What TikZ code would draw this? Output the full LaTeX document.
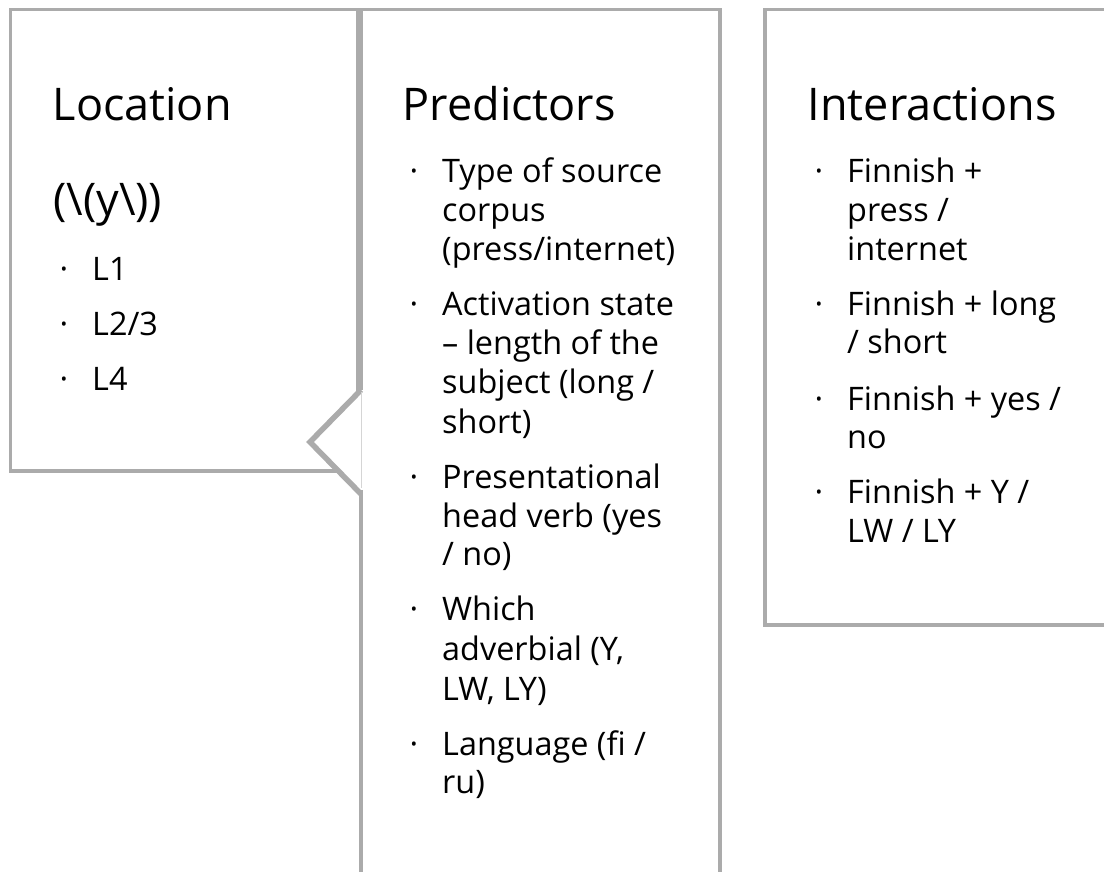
\documentclass[tikz,border=0pt]{standalone}
\usepackage{fontspec}
\setmainfont{Open Sans}
\definecolor{boxgray}{HTML}{ABABAB}
\tikzset{
  boxline/.style={draw=boxgray, line width=3.3pt},
  head/.style={anchor=base west, inner sep=0pt, font=\fontsize{45}{54}\selectfont},
  txt/.style={anchor=base west, inner sep=0pt, font=\fontsize{32.4}{39}\selectfont},
  bul/.style={anchor=base, inner sep=0pt, font=\fontsize{32.4}{39}\selectfont},
}
\begin{document}
\begin{tikzpicture}[x=1pt,y=-1pt]
\clip (0,0) rectangle (1104,871);
\fill[white] (0,0) rectangle (1104,871);
% left box
\draw[boxline] (10.5,9.5) rectangle (358,471);
% middle shape with notch
\fill[white] (361,880) -- (361,490) -- (310,440) -- (361,390) -- (361,9.5) -- (720,9.5) -- (720,880) -- cycle;
\draw[boxline] (361,880) -- (361,490);
\draw[boxline] (361,390) -- (361,9.5) -- (720,9.5) -- (720,880);
\draw[boxgray, line width=5.5pt, line join=miter] (361,494) -- (310,442) -- (361,390);
\draw[boxgray!50, line width=0.8pt] (361,392) -- (361,488);
% right box
\draw[boxline] (765,9.5) rectangle (1112,625);

% left texts
\node[head] (lochead) at (52.5,120) {Location};
\node[head] (locy) at (53,215) {(\textbackslash(y\textbackslash))};
\node[bul] (lb1) at (64,280) {·}; \node[txt] (l1) at (92,280) {L1};
\node[bul] (lb2) at (64,335) {·}; \node[txt] (l2) at (92,335) {L2/3};
\node[bul] (lb3) at (64,390) {·}; \node[txt] (l3) at (92,390) {L4};

% middle texts
\node[head] (predhead) at (402.5,120) {Predictors};
\node[bul] (pb1) at (414,182) {·};
\node[txt] (p1a) at (442,182) {Type of source};
\node[txt] (p1b) at (442,221) {corpus};
\node[txt] (p1c) at (442,260) {(press/internet)};
\node[bul] (pb2) at (414,315) {·};
\node[txt] (p2a) at (442,315) {Activation state};
\node[txt] (p2b) at (442,354) {– length of the};
\node[txt] (p2c) at (442,393) {subject (long /};
\node[txt] (p2d) at (442,433) {short)};
\node[bul] (pb3) at (414,488) {·};
\node[txt] (p3a) at (442,488) {Presentational};
\node[txt] (p3b) at (442,527) {head verb (yes};
\node[txt] (p3c) at (442,565) {/ no)};
\node[bul] (pb4) at (414,620) {·};
\node[txt] (p4a) at (442,620) {Which};
\node[txt] (p4b) at (442,660) {adverbial (Y,};
\node[txt] (p4c) at (442,700) {LW, LY)};
\node[bul] (pb5) at (414,755) {·};
\node[txt] (p5a) at (442,755) {Language (fi /};
\node[txt] (p5b) at (442,793) {ru)};

% right texts
\node[head] (inthead) at (807.5,120) {Interactions};
\node[bul] (ib1) at (819,182) {·};
\node[txt] (i1a) at (847,182) {Finnish +};
\node[txt] (i1b) at (847,221) {press /};
\node[txt] (i1c) at (847,260) {internet};
\node[bul] (ib2) at (819,315) {·};
\node[txt] (i2a) at (847,315) {Finnish + long};
\node[txt] (i2b) at (847,353) {/ short};
\node[bul] (ib3) at (819,410) {·};
\node[txt] (i3a) at (847,410) {Finnish + yes /};
\node[txt] (i3b) at (847,448) {no};
\node[bul] (ib4) at (819,503) {·};
\node[txt] (i4a) at (847,503) {Finnish + Y /};
\node[txt] (i4b) at (847,542) {LW / LY};
\end{tikzpicture}
\end{document}
